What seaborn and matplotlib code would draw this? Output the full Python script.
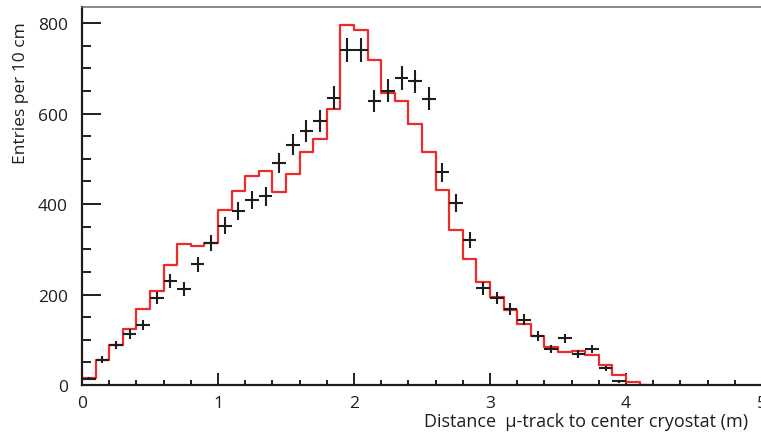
import numpy as np
import pandas as pd
import matplotlib
matplotlib.use("Agg")
import matplotlib.pyplot as plt
from matplotlib.ticker import MultipleLocator
import seaborn as sns

# Bin edges (m) and simulated entries per 10 cm bin
bin_edges = np.round(np.arange(0.0, 4.2001, 0.1), 2)
mc_counts = [15, 56, 89, 124, 167, 207, 266, 311, 307, 313,
             387, 429, 461, 473, 427, 466, 516, 544, 610, 796,
             785, 719, 645, 628, 577, 514, 432, 342, 278, 228,
             194, 166, 135, 109, 83, 72, 76, 66, 45, 23,
             7, 0]

# Measured entries per 10 cm bin (bin centres 0.05 ... 3.95 m)
data_counts = [14, 56, 88, 113, 133, 192, 230, 212, 267, 313,
               352, 385, 409, 417, 490, 531, 561, 583, 635, 740,
               740, 628, 650, 678, 671, 633, 470, 402, 321, 214,
               192, 168, 144, 108, 80, 103, 69, 79, 37, 8]

x_label = "Distance  \u03bc-track to center cryostat (m)"
y_label = "Entries per 10 cm"

sns.set_theme(style="white")
plt.rcParams["font.family"] = ["Open Sans", "DejaVu Sans"]

fig = plt.figure(figsize=(7.61, 4.35), dpi=100)
ax = fig.add_axes([82 / 761, 49 / 435, 680 / 761, 378.5 / 435])

centers = (bin_edges[:-1] + bin_edges[1:]) / 2
mc = pd.DataFrame({"distance": centers, "entries": mc_counts})
sns.histplot(data=mc, x="distance", weights="entries", binwidth=0.1,
             binrange=(bin_edges[0], bin_edges[-1]), element="step",
             fill=False, color="#ee2a2a", linewidth=1.6, ax=ax, zorder=2)

data_x = centers[:len(data_counts)]
data_y = np.array(data_counts, dtype=float)
ax.errorbar(data_x, data_y, xerr=0.05, yerr=np.sqrt(data_y), fmt="none",
            ecolor="#1e1e1e", elinewidth=1.5, capsize=0, zorder=3)

ax.set_xlim(0, 5)
ax.set_ylim(0, 836.5)

ax.xaxis.set_major_locator(MultipleLocator(1))
ax.xaxis.set_minor_locator(MultipleLocator(0.2))
ax.yaxis.set_major_locator(MultipleLocator(200))
ax.yaxis.set_minor_locator(MultipleLocator(50))

ax.tick_params(axis="y", which="major", direction="in", length=13.7, width=1.4,
               color="#1e1e1e", pad=10, labelsize=12.5, left=True)
ax.tick_params(axis="y", which="minor", direction="in", length=6.5, width=1.4,
               color="#1e1e1e", left=True)
ax.tick_params(axis="x", which="major", direction="in", length=8.6, width=1.4,
               color="#1e1e1e", pad=7, labelsize=12.5, bottom=True)
ax.tick_params(axis="x", which="minor", direction="in", length=3.6, width=1.4,
               color="#1e1e1e", bottom=True)
ax.tick_params(labelcolor="#1e1e1e")

for side in ("left", "bottom"):
    ax.spines[side].set_color("#1e1e1e")
    ax.spines[side].set_linewidth(1.6)
ax.spines["top"].set_color("#6a6a6a")
ax.spines["top"].set_linewidth(1.1)
ax.spines["right"].set_visible(False)

ax.set_xlabel(x_label, fontsize=13, color="#1e1e1e", loc="right")
ax.xaxis.set_label_coords(0.979, -0.071)
ax.set_ylabel(y_label, fontsize=12.5, color="#1e1e1e", loc="top")
ax.yaxis.set_label_coords(-0.078, 0.962)

fig.savefig("out.png", dpi=100)
